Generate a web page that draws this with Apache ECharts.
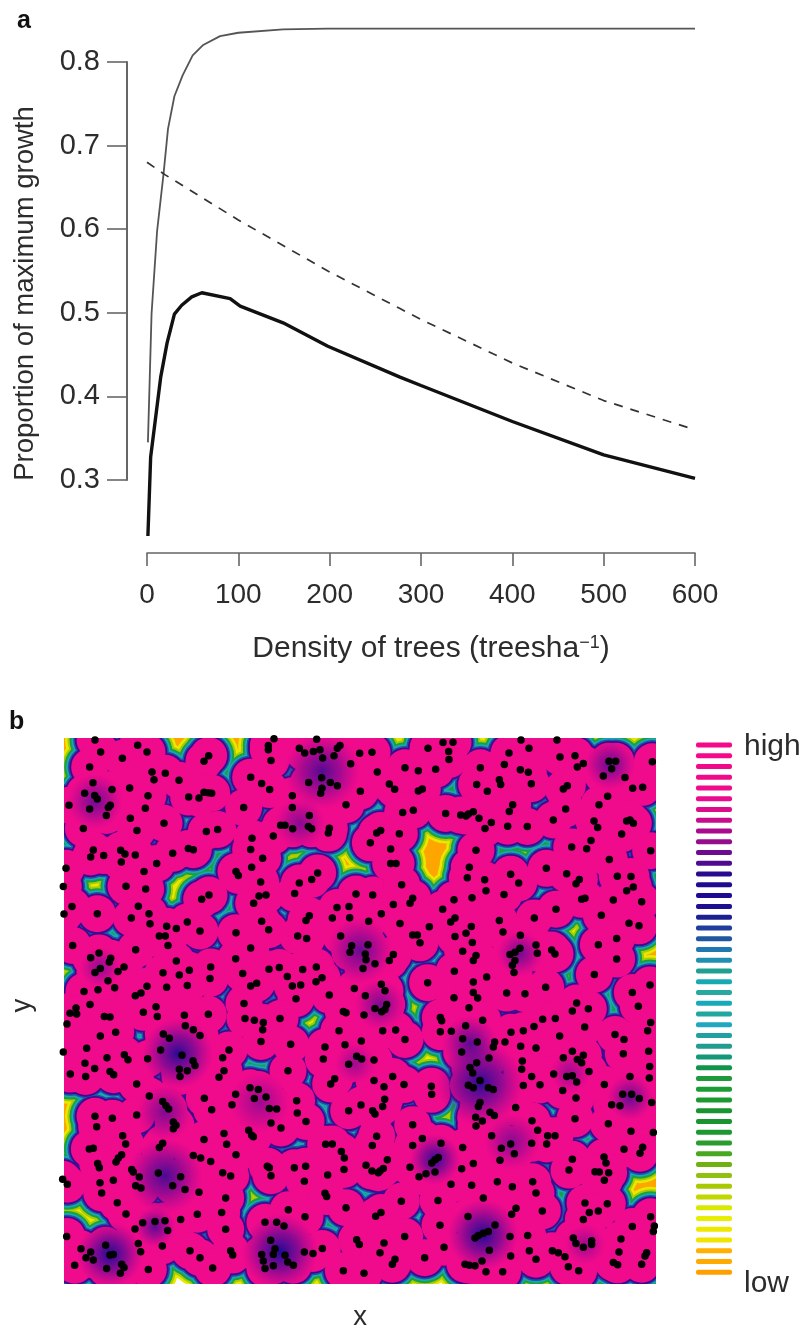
<!DOCTYPE html>
<html><head><meta charset="utf-8">
<script src="https://cdn.jsdelivr.net/npm/echarts@6/dist/echarts.min.js"></script>
<style>html,body{margin:0;padding:0;background:#fff}#c{width:803px;height:1332px;filter:blur(0.6px)}</style>
</head><body><div id="c"></div>
<script>
const densityTicks=[0,100,200,300,400,500,600];
const growthTicks=[0.3,0.4,0.5,0.6,0.7,0.8];
const upperCurve=[[1,.345],[5,.499],[11,.597],[18,.665],[23,.72],[30,.759],[39,.784],[50,.808],[61,.82],[80,.831],[100,.835],[149,.839],[198,.84],[600,.84]];
const dashedCurve=[[0,.68],[20,.665],[100,.611],[198,.55],[277,.505],[300,.492],[400,.44],[500,.395],[600,.36]];
const lowerCurve=[[1,.233],[4,.3275],[15,.423],[22,.464],[30,.4985],[38,.509],[49,.519],[60,.524],[91,.517],[102,.508],[149,.488],[198,.46],[277,.423],[300,.413],[400,.37],[500,.33],[600,.302]];
const legendColors=['#f5098a','#f5098a','#f00a8a','#f00a8a','#f00a8c','#ea0c8c','#dc0c8c','#c80c8c','#a80c8c','#960c8c','#6e0a90','#500a90','#280a90','#200a90','#1c0a94','#1c1090','#1c2090','#203c9c','#2058a0','#2078b0','#2090b0','#20a090','#18aab4','#28a8a0','#18aab8','#20a8a0','#20a8c0','#20a0a0','#209c90','#14987a','#10944c','#1c9a3c','#1c9c34','#1c9a30','#1a9430','#1a9430','#1c9830','#2c9c30','#48a820','#70b010','#90c010','#a8c800','#c0d800','#d8e800','#e8ee00','#eee800','#f0e400','#ffb000','#ffaa00','#ffa000'];
const sectionOriginX=[-12,588,1188];
const sectionOriginY=[-24,531,1086];
const treesR1C1=[105,30,233,46,122,67,261,67,187,86,446,78,432,95,89,113,276,128,316,132,282,152,357,153,572,144,99,161,74,193,156,182,209,177,104,200,112,211,264,201,386,205,417,208,432,190,445,192,455,193,27,230,89,241,151,230,145,237,256,239,551,237,139,261,211,270,312,285,70,301,231,307,473,304,439,310,576,331,572,365,100,367,92,388,131,384,182,368,195,379,226,382,385,362,400,366,338,377,184,404,290,408,18,423,252,433,575,420,528,433,535,445,10,479,198,478,257,486,447,505,425,518,597,508,36,540,235,539,581,530];
const treesR1C2=[42,26,25,47,25,60,118,55,134,70,170,28,160,65,180,60,240,47,232,55,222,78,188,85,299,71,336,68,33,93,272,103,435,115,352,128,475,124,527,120,504,55,549,38,579,37,566,65,567,90,5,163,29,182,146,160,185,146,211,160,232,170,186,178,182,193,388,165,404,181,301,187,487,180,475,186,97,201,97,237,258,228,428,252,460,245,148,261,557,255,62,291,75,291,98,302,145,295,155,302,208,300,205,315,40,324,362,307,350,315,418,317,331,345,392,364,8,392,392,408,408,408,173,437,155,457,118,468,2,465,104,500,18,505,288,502,338,505,425,473,458,515,450,530,400,534,582,519,548,548,231,543,267,540];
const treesR1C3=[183,30,291,30,207,55,147,70,345,78,300,82,133,105,61,115,181,121,205,129,352,113,370,102,447,95,467,95,455,118,430,140,495,145,577,97,50,166,82,187,118,152,122,166,214,164,310,180,322,170,548,175,518,178,443,202,158,228,148,249,417,228,317,241,40,250,25,257,18,263,2,260,57,270,94,283,143,294,202,295,75,301,280,275,402,278,413,298,510,275,520,285,500,278,485,318,393,338,335,358,380,363,48,368,572,369,448,396,28,420,22,452,259,423,152,441,320,440,472,447,513,448,74,458,176,468,358,457,348,470,520,480,500,492,78,492,132,503,36,513,365,518,375,515,460,520,545,525,288,548];
const treesR2C1=[12,8,112,7,214,20,267,7,270,38,320,45,349,52,382,32,420,60,298,75,316,75,528,65,38,104,324,104,572,112,227,117,117,127,92,142,152,143,148,155,349,152,527,145,121,175,105,187,192,170,174,184,309,188,358,195,388,180,452,170,450,205,548,190,144,212,164,234,72,245,114,240,261,229,320,232,382,227,590,220,572,228,243,250,226,258,90,285,48,296,30,312,50,314,288,292,552,282,250,309,133,322,150,323,292,322,373,318,445,315,21,345,555,328,583,333,376,350,400,362,167,370,121,381,310,375,328,388,420,380,80,419,302,424,507,424,10,430,141,448,193,439,204,454,263,451,366,440,399,457,405,472,75,465,488,448,104,481,358,483,382,488,150,490,161,500,492,488,31,498,77,505,360,505,477,508,230,528,570,540,595,545];
const treesR2C2=[5,30,26,56,148,13,138,28,217,20,269,19,326,30,364,7,420,37,508,47,585,20,572,32,113,75,140,83,242,75,458,72,472,72,480,96,585,77,275,105,270,125,324,102,316,130,318,148,400,132,388,150,345,160,58,172,27,177,128,178,169,170,309,175,583,183,82,199,186,203,168,215,97,228,122,225,503,218,364,223,283,236,375,243,208,256,316,258,108,267,582,264,258,310,250,306,312,317,345,297,380,285,375,300,365,307,60,328,541,325,545,335,10,340,8,362,407,363,237,365,368,365,541,368,574,367,435,392,3,398,92,407,304,397,195,415,255,408,290,443,305,452,342,455,190,452,266,468,84,488,398,505,342,518,224,512,212,528,432,530,372,537,514,535];
const treesR2C3=[34,46,18,67,118,28,223,20,129,63,181,73,424,12,507,36,537,44,37,95,228,103,232,128,180,113,165,125,150,132,275,118,285,130,415,102,470,83,470,146,8,122,48,135,40,150,165,150,157,165,162,187,403,193,80,201,40,216,40,248,53,265,257,232,140,250,195,252,570,225,517,248,350,280,385,298,337,305,27,295,535,290,68,333,248,330,286,328,572,340,374,354,17,350,222,352,563,365,465,377,153,370,190,365,299,381,492,392,8,390,104,400,135,400,182,413,228,418,100,415,52,400,5,430,337,428,370,440,566,428,490,436,87,449,310,448,352,453,365,463,187,458,569,475,50,463,30,478,38,495,185,483,387,490,510,505,281,498,215,505,320,505,337,503,568,510,350,522,60,518,25,532,40,540,85,540,100,545,190,533,240,531,433,530,308,548];
const treesR3C1=[268,10,433,17,308,27,318,40,326,50,583,18,527,5,455,52,516,37,105,72,157,78,230,68,340,90,348,100,340,110,110,104,492,125,566,115,575,130,580,135,188,132,432,143,197,157,308,155,298,168,100,170,88,172,500,158,185,190,175,200,168,212,113,217,118,230,400,192,422,200,452,211,528,190,215,235,220,243,295,246,488,245,512,255,238,258,362,257,8,265,160,268,120,276,22,280,227,285,243,292,338,285,375,296,417,305,125,307,172,337,497,322,198,371,412,372,485,367,285,394,315,392,248,398,362,388,225,417,323,422,497,418,20,440,137,467,235,462,307,469,63,478,92,488,150,497,160,495,242,487,390,484,512,484,518,497,420,505,78,505,100,512,185,525,192,535,140,538,44,528,265,541,458,537,181,553];
const treesR3C2=[18,13,110,25,28,48,50,50,112,62,303,38,266,55,338,55,345,65,374,20,368,42,515,5,138,88,33,93,63,108,458,98,350,133,487,140,197,158,217,157,337,162,458,162,543,155,244,180,253,200,535,198,525,205,515,215,382,205,318,222,22,225,28,230,103,230,137,225,370,232,360,240,336,240,355,245,252,235,450,228,33,254,203,252,498,248,525,243,477,257,133,271,573,280,195,308,200,318,424,332,534,330,85,358,258,352,363,367,347,378,135,380,15,397,50,397,72,408,540,406,32,452,434,440,290,450,298,465,372,460,187,477,133,488,159,492,552,473,45,478,40,495,5,495,75,498,10,515,83,518,40,530,100,528,15,538,360,490,494,505,405,510,397,525,250,545,312,553];
const treesR3C3=[348,16,60,30,55,42,167,45,488,5,515,5,538,18,575,30,455,37,480,40,90,60,103,70,47,75,67,87,48,102,216,86,345,80,445,95,233,115,263,132,285,132,513,118,580,122,95,132,215,155,260,157,152,157,124,170,163,187,8,168,492,173,548,167,540,185,120,207,40,217,337,204,432,197,438,215,327,237,5,233,405,242,418,243,446,245,112,273,218,273,433,268,35,283,157,288,70,322,228,307,375,338,247,362,168,354,155,372,442,340,415,362,388,367,370,388,24,379,572,380,583,408,580,425,517,410,105,405,85,425,70,430,55,437,45,445,150,440,203,437,483,448,340,445,348,462,370,473,395,453,395,465,88,482,277,484,295,490,477,488,560,490,555,500,152,500,208,484,228,510,315,502,325,533,460,520,473,527,545,525,66,515,15,525,28,528,45,530,78,548,128,548,356,545];
const treeSections=[[treesR1C1,treesR1C2,treesR1C3],[treesR2C1,treesR2C2,treesR2C3],[treesR3C1,treesR3C2,treesR3C3]];
// dense patches: x, y, patch diameter, darkness
const densePatches=[[774,102,75,.75],[93,195,55,.6],[708,261,50,.5],[888,651,65,.65],[1368,660,45,.6],[108,702,40,.45],[342,966,70,.95],[948,816,50,.55],[1248,1056,85,.95],[1218,936,55,.7],[303,1341,75,.8],[303,1146,55,.55],[273,1497,40,.7],[138,1581,65,1],[648,1572,75,1],[1257,1521,70,1],[1113,1290,50,.9],[1344,1236,55,.5],[1698,1101,45,.65],[1638,81,50,.65],[1518,1026,40,.4],[873,996,40,.4],[588,1116,60,.4],[1563,1551,40,.4]];

const gapLevels=[[60,'#e8e800'],[55,'#a8cc00'],[51,'#18a048'],[47,'#18a8b0'],[43.5,'#2050a8'],[40.5,'#3a0a90'],[37,'#f00a8c']];
const treePoints=[];
treeSections.forEach((row,r)=>row.forEach((list,c)=>{
  for(let i=0;i<list.length;i+=2)treePoints.push([list[i]+sectionOriginX[c],list[i+1]+sectionOriginY[r]]);
}));
const font='"Liberation Sans",Arial,sans-serif';
const textCol='#2c2c2c';
const axisCol='#666';
const gapSeries=gapLevels.map(l=>({type:'scatter',z:2,xAxisIndex:1,yAxisIndex:1,data:treePoints,symbolSize:l[0],clip:false,silent:true,
  itemStyle:{color:l[1],opacity:1},animation:false}));
const patchSeries={type:'scatter',z:2,xAxisIndex:1,yAxisIndex:1,clip:false,silent:true,animation:false,
  data:densePatches.map(p=>({value:[p[0],p[1]],symbolSize:p[2],itemStyle:{opacity:1,color:{type:'radial',x:.5,y:.5,r:.5,colorStops:[
    {offset:0,color:`rgba(30,10,150,${p[3]})`},{offset:.5,color:`rgba(70,10,150,${p[3]*.6})`},{offset:1,color:'rgba(120,10,150,0)'}]}}}))};
const treeSeries={type:'scatter',z:5,xAxisIndex:1,yAxisIndex:1,data:treePoints,symbolSize:7.5,clip:false,silent:true,animation:false,itemStyle:{color:'#000',opacity:1}};
const maskRect=(x,y,width,height)=>({type:'rect',z:3,silent:true,shape:{x,y,width,height},style:{fill:'#fff'}});
const titleText=(text,left,top,size,weight)=>({text,left,top,padding:0,z:6,textStyle:{fontFamily:font,fontSize:size,fontWeight:weight,color:weight==='bold'?'#111':textCol}});
const opt={
  animation:false,backgroundColor:'#fff',
  title:[titleText('a',17,9,25,'bold'),titleText('b',9,710,25,'bold'),titleText('high',744,732,30,'normal'),titleText('low',744,1269,30,'normal')],
  graphic:{elements:[maskRect(0,690,64,642),maskRect(656,690,40,642),maskRect(0,690,696,48),maskRect(0,1284,696,48)]},
  grid:[
    {left:147,top:62,width:548,height:418},
    {left:64,top:738,width:592,height:546,show:true,backgroundColor:'#ffa500',borderWidth:0},
    {left:696,top:739.6,width:36,height:538}
  ],
  xAxis:[
    {gridIndex:0,type:'value',min:0,max:600,interval:100,offset:73,splitLine:{show:false},
     axisLine:{onZero:false,lineStyle:{color:axisCol,width:1.6}},axisTick:{length:13,lineStyle:{color:axisCol,width:1.6}},
     axisLabel:{fontFamily:font,fontSize:28,color:textCol,margin:28,showMinLabel:true,showMaxLabel:true,formatter:v=>String(v),customValues:densityTicks},
     name:'Density of trees (treesha{s|\u22121})',nameLocation:'middle',nameGap:81,
     nameTextStyle:{fontFamily:font,fontSize:30,color:textCol,padding:[0,0,0,20],rich:{s:{fontFamily:font,fontSize:18,color:textCol,verticalAlign:'top',padding:[0,0,12,0]}}}},
    {gridIndex:1,type:'value',z:6,min:0,max:1776,show:true,axisLine:{show:false},axisTick:{show:false},axisLabel:{show:false},splitLine:{show:false},
     name:'x',nameLocation:'middle',nameGap:30,nameTextStyle:{fontFamily:font,fontSize:27.5,color:textCol}},
    {gridIndex:2,type:'value',min:0,max:1,show:false}
  ],
  yAxis:[
    {gridIndex:0,type:'value',min:.3,max:.8,interval:.1,offset:20,splitLine:{show:false},
     axisLine:{show:true,onZero:false,lineStyle:{color:axisCol,width:2}},axisTick:{show:true,length:20,lineStyle:{color:axisCol,width:1.6}},
     axisLabel:{fontFamily:font,fontSize:29,color:textCol,margin:27,formatter:v=>v.toFixed(1)},
     name:'Proportion of maximum growth',nameLocation:'middle',nameGap:88,nameRotate:90,nameTextStyle:{fontFamily:font,fontSize:27.5,color:textCol,padding:[0,45,0,0]}},
    {gridIndex:1,type:'value',z:6,min:0,max:1638,inverse:true,axisLine:{show:false},axisTick:{show:false},axisLabel:{show:false},splitLine:{show:false},
     name:'y',nameLocation:'middle',nameGap:28,nameRotate:90,nameTextStyle:{fontFamily:font,fontSize:27.5,color:textCol}},
    {gridIndex:2,type:'category',inverse:true,data:legendColors.map((c,i)=>i),show:false}
  ],
  series:[
    {type:'line',data:upperCurve,showSymbol:false,clip:false,lineStyle:{color:'#555',width:1.8},silent:true},
    {type:'line',data:dashedCurve,showSymbol:false,clip:false,lineStyle:{color:'#333',width:1.7,type:[9,8]},silent:true},
    {type:'line',data:lowerCurve,showSymbol:false,clip:false,lineStyle:{color:'#111',width:3.4},silent:true},
    ...gapSeries,patchSeries,treeSeries,
    {type:'bar',z:5,xAxisIndex:2,yAxisIndex:2,barWidth:5,silent:true,
     data:legendColors.map(c=>({value:1,itemStyle:{color:c,borderRadius:2}}))}
  ]
};
echarts.init(document.getElementById('c'),null,{renderer:'canvas'}).setOption(opt);
</script></body></html>
